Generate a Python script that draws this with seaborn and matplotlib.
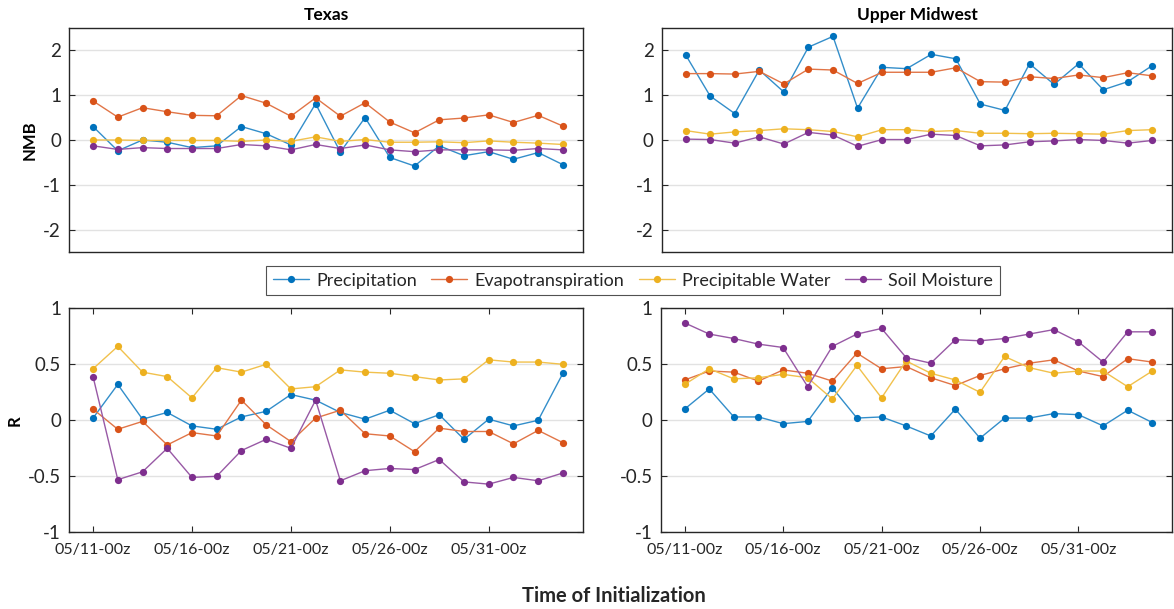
import numpy as np
import pandas as pd
import matplotlib
matplotlib.use("Agg")
import matplotlib.pyplot as plt
import matplotlib.dates as mdates
from matplotlib.colors import to_rgb
import seaborn as sns

# Forecast initialization times (every 30 h starting 05/11 00z)
init_times = pd.date_range("2019-05-11 00:00", periods=20, freq="30h")

variables = ["Precipitation", "Evapotranspiration", "Precipitable Water", "Soil Moisture"]
colors = ["#0072BD", "#D95319", "#EDB120", "#7E2F8E"]

# Normalized mean bias - Texas
tx_nmb_precip = [0.30, -0.24, 0.00, -0.05, -0.17, -0.13, 0.30, 0.14, -0.11, 0.81,
                 -0.27, 0.50, -0.39, -0.58, -0.13, -0.35, -0.26, -0.43, -0.28, -0.55]
tx_nmb_et = [0.87, 0.51, 0.72, 0.63, 0.55, 0.54, 0.99, 0.82, 0.53, 0.94,
             0.53, 0.83, 0.40, 0.16, 0.45, 0.49, 0.56, 0.39, 0.55, 0.31]
tx_nmb_pw = [0.00, 0.00, -0.01, -0.01, -0.01, -0.01, -0.03, 0.00, -0.03, 0.07,
             -0.03, 0.01, -0.05, -0.05, -0.04, -0.06, -0.02, -0.05, -0.07, -0.10]
tx_nmb_sm = [-0.13, -0.21, -0.17, -0.19, -0.19, -0.19, -0.10, -0.13, -0.22, -0.10,
             -0.19, -0.11, -0.22, -0.26, -0.22, -0.22, -0.22, -0.23, -0.19, -0.22]

# Normalized mean bias - Upper Midwest
um_nmb_precip = [1.90, 0.98, 0.59, 1.56, 1.07, 2.07, 2.31, 0.71, 1.62, 1.59,
                 1.91, 1.81, 0.80, 0.66, 1.70, 1.24, 1.70, 1.12, 1.30, 1.66]
um_nmb_et = [1.48, 1.48, 1.47, 1.53, 1.25, 1.58, 1.56, 1.26, 1.51, 1.51,
             1.51, 1.61, 1.30, 1.29, 1.41, 1.37, 1.45, 1.39, 1.50, 1.43]
um_nmb_pw = [0.21, 0.13, 0.18, 0.21, 0.25, 0.23, 0.19, 0.07, 0.23, 0.23,
             0.19, 0.21, 0.15, 0.15, 0.14, 0.15, 0.14, 0.13, 0.21, 0.23]
um_nmb_sm = [0.02, 0.01, -0.07, 0.07, -0.09, 0.17, 0.11, -0.14, 0.01, 0.01,
             0.13, 0.10, -0.13, -0.11, -0.04, -0.02, 0.01, -0.01, -0.07, -0.01]

# Correlation - Texas
tx_r_precip = [0.02, 0.32, 0.01, 0.07, -0.05, -0.08, 0.03, 0.08, 0.23, 0.18,
               0.07, 0.01, 0.09, -0.03, 0.05, -0.17, 0.01, -0.05, 0.00, 0.42]
tx_r_et = [0.10, -0.08, -0.01, -0.22, -0.11, -0.14, 0.18, -0.04, -0.19, 0.02,
           0.09, -0.12, -0.14, -0.28, -0.07, -0.10, -0.10, -0.21, -0.09, -0.20]
tx_r_pw = [0.46, 0.66, 0.43, 0.39, 0.20, 0.47, 0.43, 0.50, 0.28, 0.30,
           0.45, 0.43, 0.42, 0.39, 0.36, 0.37, 0.54, 0.52, 0.52, 0.50]
tx_r_sm = [0.39, -0.53, -0.46, -0.25, -0.51, -0.50, -0.27, -0.17, -0.25, 0.18,
           -0.54, -0.45, -0.43, -0.44, -0.35, -0.55, -0.57, -0.51, -0.54, -0.47]

# Correlation - Upper Midwest
um_r_precip = [0.10, 0.28, 0.03, 0.03, -0.03, -0.01, 0.29, 0.02, 0.03, -0.05,
               -0.14, 0.10, -0.16, 0.02, 0.02, 0.06, 0.05, -0.05, 0.09, -0.02]
um_r_et = [0.36, 0.44, 0.43, 0.35, 0.45, 0.42, 0.35, 0.60, 0.46, 0.48,
           0.38, 0.31, 0.40, 0.46, 0.51, 0.54, 0.44, 0.39, 0.55, 0.52]
um_r_pw = [0.32, 0.46, 0.37, 0.38, 0.41, 0.38, 0.19, 0.49, 0.20, 0.53,
           0.42, 0.36, 0.25, 0.57, 0.47, 0.42, 0.44, 0.44, 0.30, 0.44]
um_r_sm = [0.87, 0.77, 0.73, 0.68, 0.65, 0.30, 0.66, 0.77, 0.82, 0.56,
           0.51, 0.72, 0.71, 0.73, 0.77, 0.81, 0.70, 0.52, 0.79, 0.79]

panels = [
    ("Texas", "NMB", [tx_nmb_precip, tx_nmb_et, tx_nmb_pw, tx_nmb_sm]),
    ("Upper Midwest", None, [um_nmb_precip, um_nmb_et, um_nmb_pw, um_nmb_sm]),
    (None, "R", [tx_r_precip, tx_r_et, tx_r_pw, tx_r_sm]),
    (None, None, [um_r_precip, um_r_et, um_r_pw, um_r_sm]),
]

sns.set_theme(style="white")
plt.rcParams["font.family"] = ["Lato", "DejaVu Sans"]
plt.rcParams["axes.edgecolor"] = "#262626"
plt.rcParams["xtick.color"] = "#262626"
plt.rcParams["ytick.color"] = "#262626"

W, H = 1174, 609
fig = plt.figure(figsize=(W / 100, H / 100), dpi=100)


def box(l, r, t, b):
    return [l / W, (H - b) / H, (r - l) / W, (b - t) / H]


rects = [box(69.3, 582.7, 28.3, 251.7), box(662, 1172, 28.3, 251.7),
         box(69.3, 582.7, 308.3, 532.3), box(661, 1172, 308.3, 532.3)]
# pixel x of the right (baseline) side of each rotated y label
ylabel_x = {"NMB": 38, "R": 23}

step = init_times[1] - init_times[0]
xlo = init_times[0] - 0.96 * step
xhi = init_times[-1] + 0.8 * step

axes = []
for i, (rect, (title, ylab, series)) in enumerate(zip(rects, panels)):
    ax = fig.add_axes(rect)
    axes.append(ax)
    frames = []
    for name, vals in zip(variables, series):
        frames.append(pd.DataFrame({"time": init_times, "value": vals, "variable": name}))
    df = pd.concat(frames, ignore_index=True)
    sns.lineplot(data=df, x="time", y="value", hue="variable", hue_order=variables,
                 palette=colors, marker="o", markersize=5.2, markeredgewidth=0,
                 linewidth=1.0, legend=False, ax=ax, zorder=3)
    # lighter connecting lines, solid markers
    for line, c in zip(ax.lines, colors):
        rgb = np.array(to_rgb(c))
        line.set_color(tuple(rgb * 0.8 + 0.2))
        line.set_markerfacecolor(c)
        line.set_markeredgecolor(c)

    top_row = i < 2
    if top_row:
        ax.set_ylim(-2.49, 2.49)
        ax.set_yticks([-2, -1, 0, 1, 2])
        ax.set_yticklabels(["-2", "-1", "0", "1", "2"])
    else:
        ax.set_ylim(-1, 1)
        ax.set_yticks([-1, -0.5, 0, 0.5, 1])
        ax.set_yticklabels(["-1", "-0.5", "0", "0.5", "1"])

    ax.set_xlim(xlo, xhi)
    ax.set_xticks(init_times[::4])
    ax.xaxis.set_major_formatter(mdates.DateFormatter("%m/%d-%Hz"))
    if top_row:
        ax.tick_params(axis="x", which="both", bottom=False, top=False, labelbottom=False)
    else:
        ax.tick_params(axis="x", direction="in", top=True, bottom=True, length=4,
                       width=0.8, labelsize=11.5, pad=8)
    ax.tick_params(axis="y", direction="in", left=True, right=True, length=4,
                   width=0.8, labelsize=13.5, pad=6)
    for lab in ax.get_xticklabels() + ax.get_yticklabels():
        lab.set_color("#262626")

    ax.grid(axis="y", color="#e2e2e2", linewidth=1.0)
    ax.grid(axis="x", visible=False)
    ax.set_axisbelow(True)
    for sp in ax.spines.values():
        sp.set_linewidth(1.0)
        sp.set_color("#262626")

    ax.set_xlabel("")
    if ylab:
        ax.set_ylabel(ylab, fontsize=12, fontweight="bold", color="black")
        left_px = rect[0] * W
        width_px = rect[2] * W
        ax.yaxis.set_label_coords((ylabel_x[ylab] - left_px) / width_px, 0.5)
    else:
        ax.set_ylabel("")
    if title:
        ax.set_title(title, fontsize=12.5, fontweight="bold", color="black", pad=6)

legend = fig.legend(handles=axes[0].lines[:4], labels=variables, loc="center",
                    bbox_to_anchor=(633 / W, 1 - 280.5 / H), ncol=4, frameon=True,
                    fontsize=13, handlelength=2.0, handletextpad=0.4, columnspacing=0.8,
                    borderpad=0.35, fancybox=False)
legend.get_frame().set_edgecolor("#262626")
legend.get_frame().set_linewidth(0.8)
for t in legend.get_texts():
    t.set_color("#262626")

fig.text(614 / W, 1 - 596 / H, "Time of Initialization", ha="center", va="center",
         fontsize=14.5, fontweight="bold", color="#262626")

fig.savefig("out.png", dpi=100)
